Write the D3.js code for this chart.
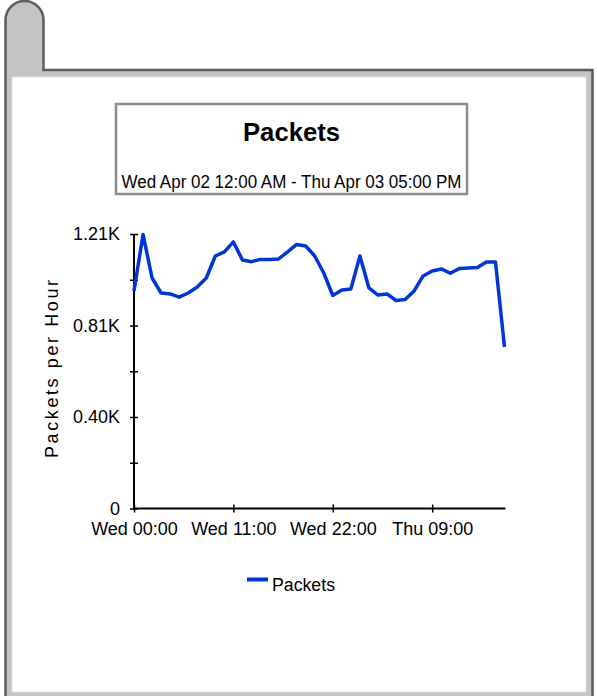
<!DOCTYPE html>
<html><head><meta charset="utf-8">
<script src="https://cdn.jsdelivr.net/npm/d3@7"></script>
<style>
html,body{margin:0;padding:0;background:#fff;}
svg{display:block;}
text{font-family:"Liberation Sans",Arial,sans-serif;}
</style></head>
<body>
<svg id="chart" width="597" height="696"></svg>
<script>
// ---- data ----
const chartTitle = "Packets";
const chartSubtitle = "Wed Apr 02 12:00 AM - Thu Apr 03 05:00 PM";
const yAxisTitle = "Packets per Hour";
const seriesName = "Packets";
const startTime = new Date(2025, 3, 2, 0, 0);   // Wed Apr 02 00:00
const hoursOffset = [0,1,2,3,4,5,6,7,8,9,10,11,12,13,14,15,16,17,18,19,20,21,22,23,24,25,26,27,28,29,30,31,32,33,34,35,36,37,38,39,40,41];
const packets = [959,1208,1016,950,946,932,950,976,1016,1113,1131,1175,1095,1088,1098,1098,1100,1131,1164,1157,1113,1038,939,963,968,1113,972,941,946,917,921,959,1025,1047,1056,1037,1058,1060,1062,1087,1087,712];
const yMax = 1210;
const yTickValues = [0, 201.67, 403.33, 605, 806.67, 1008.33, 1210];
const yTickLabels = ["0", "", "0.40K", "", "0.81K", "", "1.21K"];
const xTickHours = [0, 11, 22, 33];
const xTickLabels = ["Wed 00:00", "Wed 11:00", "Wed 22:00", "Thu 09:00"];
const endHour = 41;

const svg = d3.select("#chart");

// ---- frame ----
const frame = svg.append("g");
const outline = d3.path();
outline.moveTo(5.5, 700);
outline.lineTo(5.5, 20);
outline.arc(24.5, 20, 19, Math.PI, 0);
outline.lineTo(43.5, 70);
outline.lineTo(592.5, 70);
outline.lineTo(592.5, 700);
outline.closePath();
frame.append("path").attr("d", outline.toString())
  .attr("fill", "#c4c4c4").attr("stroke", "#5c5c5c").attr("stroke-width", 2.5);
frame.append("rect").attr("x", 12).attr("y", 77).attr("width", 574).attr("height", 615)
  .attr("fill", "#fff").attr("stroke", "#e2e2e2").attr("stroke-width", 1);

// ---- title box ----
svg.append("rect").attr("x", 116).attr("y", 104).attr("width", 351).attr("height", 90)
  .attr("fill", "#fff").attr("stroke", "#8c8c8c").attr("stroke-width", 2.5);
svg.append("text").attr("x", 291.5).attr("y", 141).attr("text-anchor", "middle")
  .attr("font-size", 26).attr("font-weight", "bold").attr("fill", "#000")
  .attr("textLength", 97).attr("lengthAdjust", "spacingAndGlyphs")
  .text(chartTitle);
svg.append("text").attr("x", 291.5).attr("y", 188).attr("text-anchor", "middle")
  .attr("font-size", 18).attr("fill", "#000")
  .attr("textLength", 340).attr("lengthAdjust", "spacingAndGlyphs")
  .text(chartSubtitle);

// ---- scales ----
const x = d3.scaleTime()
  .domain([startTime, d3.timeHour.offset(startTime, endHour)])
  .range([134, 504.5]);
const y = d3.scaleLinear().domain([0, yMax]).range([508.5, 234]);

const data = hoursOffset.map((h, i) => ({t: d3.timeHour.offset(startTime, h), v: packets[i]}));

// ---- y axis ----
const yAxis = d3.axisLeft(y).tickValues(yTickValues).tickSize(4).tickPadding(10)
  .tickFormat((d, i) => yTickLabels[i]);
const gy = svg.append("g").attr("transform", "translate(134,0)").call(yAxis);
gy.select(".domain").remove();
gy.selectAll(".tick line").attr("stroke", "#000").attr("stroke-width", 1.5);
gy.selectAll(".tick").append("line").attr("x1", 0).attr("x2", 4)
  .attr("stroke", "#000").attr("stroke-width", 1.5);
gy.selectAll(".tick text").attr("font-size", 18).attr("fill", "#000")
  .attr("font-family", "Liberation Sans, Arial, sans-serif");

// ---- x axis ----
const xAxis = d3.axisBottom(x).tickValues(xTickHours.map(h => d3.timeHour.offset(startTime, h)))
  .tickSize(4).tickPadding(10).tickFormat((d, i) => xTickLabels[i]);
const gx = svg.append("g").attr("transform", "translate(0,508.5)").call(xAxis);
gx.select(".domain").remove();
gx.selectAll(".tick line").attr("stroke", "#000").attr("stroke-width", 1.5);
gx.selectAll(".tick").append("line").attr("y1", 0).attr("y2", -4)
  .attr("stroke", "#000").attr("stroke-width", 1.5);
gx.selectAll(".tick text").attr("font-size", 18).attr("fill", "#000")
  .attr("font-family", "Liberation Sans, Arial, sans-serif");

// axis lines
svg.append("line").attr("x1", 134).attr("x2", 134).attr("y1", y(yMax)).attr("y2", 509.5)
  .attr("stroke", "#000").attr("stroke-width", 2);
svg.append("line").attr("x1", 133).attr("x2", x(d3.timeHour.offset(startTime, endHour)) + 1).attr("y1", 508.5).attr("y2", 508.5)
  .attr("stroke", "#000").attr("stroke-width", 2);

// y axis title
svg.append("text").attr("transform", "translate(58,369) rotate(-90)")
  .attr("text-anchor", "middle").attr("font-size", 18).attr("fill", "#000")
  .attr("textLength", 178).attr("lengthAdjust", "spacing")
  .text(yAxisTitle);

// ---- line ----
const line = d3.line().x(d => x(d.t)).y(d => y(d.v));
svg.append("path").datum(data).attr("d", line)
  .attr("fill", "none").attr("stroke", "#0036d6").attr("stroke-width", 3.5)
  .attr("stroke-linejoin", "round");

// ---- legend ----
svg.append("line").attr("x1", 247).attr("x2", 268).attr("y1", 579.5).attr("y2", 579.5)
  .attr("stroke", "#0036d6").attr("stroke-width", 4);
svg.append("text").attr("x", 272).attr("y", 591).attr("font-size", 18).attr("fill", "#000")
  .attr("textLength", 63).attr("lengthAdjust", "spacingAndGlyphs")
  .text(seriesName);
</script>
</body></html>
